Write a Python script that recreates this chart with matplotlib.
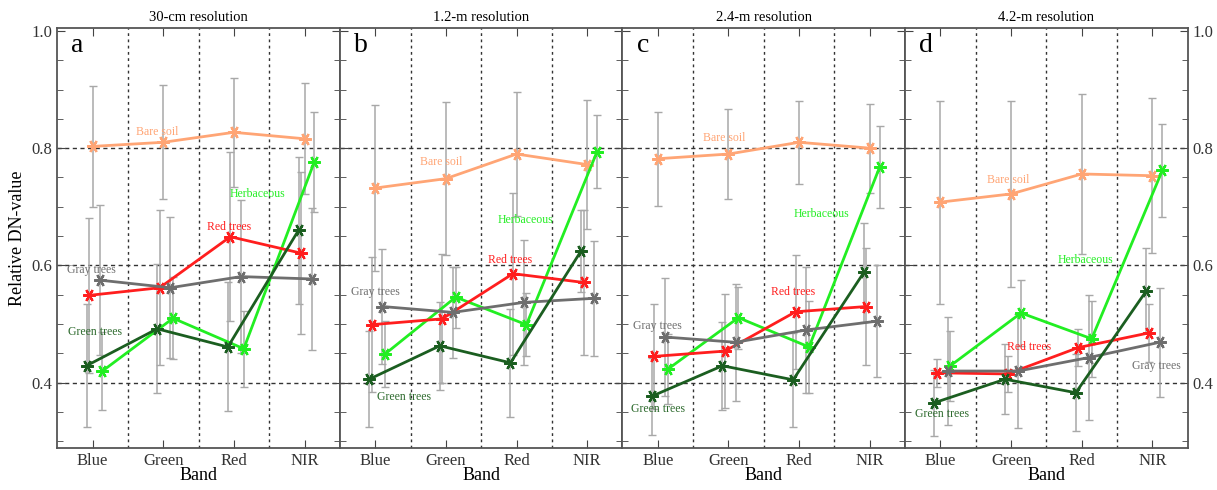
import numpy as np
import matplotlib.pyplot as plt
from matplotlib.ticker import MultipleLocator

plt.rcParams['font.family'] = ['Liberation Serif', 'DejaVu Serif']

bands = ['Blue', 'Green', 'Red', 'NIR']
titles = ['30-cm resolution', '1.2-m resolution', '2.4-m resolution', '4.2-m resolution']
letters = ['a', 'b', 'c', 'd']
classes = ['Bare soil', 'Herbaceous', 'Red trees', 'Gray trees', 'Green trees']

# mean relative DN per panel (rows) and band (cols)
bare_soil = [[0.803, 0.810, 0.827, 0.816],
             [0.732, 0.748, 0.790, 0.772],
             [0.782, 0.790, 0.810, 0.800],
             [0.708, 0.722, 0.756, 0.753]]
herbaceous = [[0.420, 0.510, 0.458, 0.777],
              [0.449, 0.546, 0.499, 0.794],
              [0.423, 0.511, 0.461, 0.768],
              [0.429, 0.519, 0.475, 0.762]]
red_trees = [[0.549, 0.562, 0.649, 0.621],
             [0.499, 0.509, 0.586, 0.571],
             [0.445, 0.454, 0.521, 0.530],
             [0.417, 0.415, 0.460, 0.485]]
gray_trees = [[0.575, 0.562, 0.581, 0.577],
              [0.530, 0.520, 0.537, 0.544],
              [0.478, 0.469, 0.490, 0.505],
              [0.420, 0.420, 0.443, 0.469]]
green_trees = [[0.429, 0.492, 0.461, 0.660],
               [0.406, 0.463, 0.434, 0.625],
               [0.377, 0.429, 0.405, 0.588],
               [0.366, 0.406, 0.383, 0.557]]

# standard deviations
bare_soil_sd = [[0.103, 0.097, 0.093, 0.095],
                [0.141, 0.130, 0.105, 0.110],
                [0.080, 0.077, 0.071, 0.076],
                [0.173, 0.159, 0.136, 0.132]]
herbaceous_sd = [[0.066, 0.070, 0.065, 0.085],
                 [0.056, 0.052, 0.054, 0.062],
                 [0.060, 0.053, 0.078, 0.070],
                 [0.060, 0.056, 0.065, 0.079]]
red_trees_sd = [[0.132, 0.132, 0.144, 0.138],
                [0.115, 0.110, 0.138, 0.124],
                [0.090, 0.097, 0.097, 0.100],
                [0.024, 0.030, 0.032, 0.049]]
gray_trees_sd = [[0.128, 0.120, 0.130, 0.121],
                 [0.098, 0.077, 0.107, 0.098],
                 [0.100, 0.100, 0.108, 0.095],
                 [0.092, 0.097, 0.106, 0.093]]
green_trees_sd = [[0.105, 0.110, 0.110, 0.125],
                  [0.082, 0.075, 0.092, 0.070],
                  [0.066, 0.075, 0.080, 0.085],
                  [0.056, 0.060, 0.066, 0.072]]

means = [bare_soil, herbaceous, red_trees, gray_trees, green_trees]
sds = [bare_soil_sd, herbaceous_sd, red_trees_sd, gray_trees_sd, green_trees_sd]
colors = ['#FFA575', '#22EE22', '#FF1E1E', '#6E6E6E', '#1B5E20']
offsets = [0.0, 0.14, -0.05, 0.10, -0.085]

# where the class names are written in each panel (x in band units, y in data)
label_pos = [
    [(0.92, 0.827), (2.34, 0.721), (1.93, 0.666), (-0.01, 0.592), (0.04, 0.486)],
    [(0.94, 0.777), (2.12, 0.678), (1.91, 0.609), (0.00, 0.555), (0.41, 0.375)],
    [(0.94, 0.817), (2.31, 0.688), (1.92, 0.555), (-0.01, 0.497), (0.00, 0.356)],
    [(0.96, 0.746), (2.05, 0.609), (1.25, 0.461), (3.05, 0.428), (0.02, 0.347)],
]
text_colors = ['#FFA575', '#22EE22', '#FF1E1E', '#707070', '#2E6B2E']

fig, axes = plt.subplots(1, 4, figsize=(12.17, 4.9), dpi=100, sharey=True)
fig.subplots_adjust(left=0.047, right=0.976, top=0.943, bottom=0.086, wspace=0)

x = np.arange(len(bands))
star = (6, 2, 30)

for p, ax in enumerate(axes):
    for yv in [0.4, 0.6, 0.8]:
        ax.axhline(yv, color='#333333', ls=(0, (3, 2.5)), lw=1.0, zorder=1)
    for xv in [0.5, 1.5, 2.5]:
        ax.axvline(xv, color='#333333', ls=(0, (2, 2.5)), lw=1.0, zorder=1)

    # error bars first, lines on top
    for k in range(len(classes)):
        ax.errorbar(x + offsets[k], means[k][p], yerr=sds[k][p], fmt='none',
                    ecolor='#A8A8A8', elinewidth=1.1, capsize=3, capthick=1.0, zorder=2)
    for k in range(len(classes)):
        ax.plot(x + offsets[k], means[k][p], color=colors[k], lw=2.0,
                marker=star, markersize=9, markeredgewidth=1.6, zorder=3)
        lx, ly = label_pos[p][k]
        ax.text(lx, ly, classes[k], color=text_colors[k], fontsize=8.5,
                ha='center', va='center', zorder=4)

    ax.text(-0.3, 0.975, letters[p], fontsize=20, va='center', ha='left')
    ax.set_title(titles[p], fontsize=10.5, pad=5)
    ax.set_xlim(-0.5, 3.5)
    ax.set_ylim(0.289, 1.005)
    ax.set_xticks(x)
    ax.set_xticklabels(bands, fontsize=12)
    ax.set_xlabel('Band', fontsize=13, labelpad=-1)
    ax.yaxis.set_major_locator(MultipleLocator(0.2))
    ax.yaxis.set_minor_locator(MultipleLocator(0.05))
    ax.tick_params(axis='both', which='both', direction='in', top=True, right=True,
                   colors='#444444', labelcolor='#333333')
    ax.tick_params(axis='y', which='major', length=6, labelsize=12)
    ax.tick_params(axis='y', which='minor', length=4)
    ax.tick_params(axis='x', which='major', length=6)
    for s in ax.spines.values():
        s.set_color('#555555')
        s.set_linewidth(1.3)

axes[0].set_ylabel('Relative DN-value', fontsize=13)
axes[0].set_yticks([0.4, 0.6, 0.8, 1.0])
axes[0].set_yticklabels(['0.4', '0.6', '0.8', '1.0'])
axes[3].tick_params(axis='y', which='both', labelright=True)

fig.savefig('out.png', dpi=100)
